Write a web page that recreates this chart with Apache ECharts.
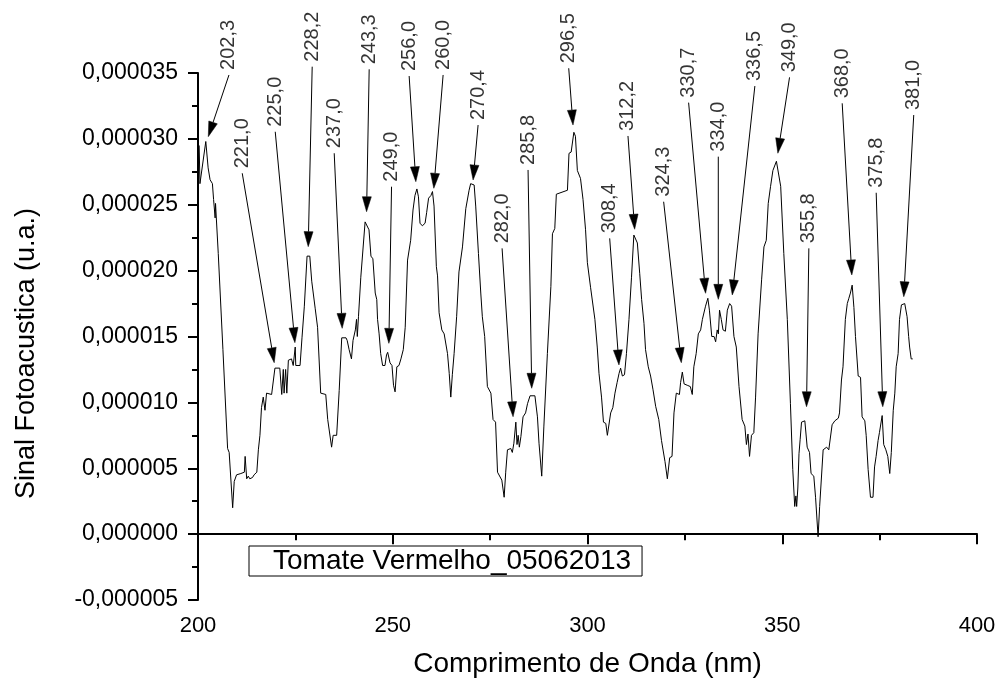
<!DOCTYPE html>
<html>
<head>
<meta charset="utf-8">
<script src="https://cdn.jsdelivr.net/npm/echarts@6/dist/echarts.min.js"></script>
<style>html,body{margin:0;padding:0;background:#fff;}#c{width:999px;height:684px;}</style>
</head>
<body>
<div id="c"></div>
<script>
// Wavelength (nm)
var wavelength = [200.3,200.5,201.0,202.0,202.6,203.1,203.7,204.0,204.3,204.4,204.5,205.2,206.4,207.6,208.0,208.9,209.3,209.9,211.0,211.9,212.1,212.5,212.9,213.3,213.6,214.0,214.4,215.1,215.5,215.9,216.3,216.75,217.2,217.6,218.9,219.3,219.75,221.0,221.5,221.9,222.1,222.5,222.8,223.2,224.0,224.45,224.96,225.1,226.2,226.7,227.3,228.0,228.7,229.2,229.5,230.1,230.7,
231.5,232.8,233.3,233.8,234.3,234.7,235.6,236.25,236.9,238.0,238.3,238.8,239.4,239.8,240.4,240.7,240.9,241.2,241.8,242.9,243.4,243.9,244.4,244.9,245.5,245.9,246.1,246.5,246.9,247.4,248.0,248.4,248.7,249.3,249.8,250.2,250.6,251.05,251.6,252.1,252.7,253.2,253.8,254.6,255.2,255.7,256.2,256.6,257.0,257.6,258.3,258.7,259.2,259.8,260.2,260.6,261.2,
261.5,261.9,262.6,263.2,264.06,264.5,264.9,265.3,265.75,266.4,267.0,267.9,268.75,269.6,270.0,270.9,271.3,272.0,272.6,273.0,273.6,274.3,275.2,275.75,276.4,276.9,277.4,278.0,278.6,279.0,279.45,280.3,280.7,281.1,281.6,281.9,282.2,282.5,282.9,283.45,284.1,284.6,285.25,286.5,287.15,287.55,288.25,288.8,289.7,290.6,291.0,291.6,292.0,
294.85,295.25,295.8,296.5,296.9,297.4,298.2,298.85,299.5,299.97,300.8,301.1,301.9,302.5,302.95,303.6,304.1,304.7,305.1,305.5,305.95,306.5,307.05,307.6,308.1,308.5,308.95,309.5,310.0,310.65,311.3,311.9,312.3,312.8,313.4,313.9,314.5,314.9,315.6,316.2,316.8,317.5,318.3,319.0,319.9,320.5,321.1,321.7,322.2,322.8,
323.6,323.9,324.35,324.8,325.6,326.4,326.9,327.3,327.9,328.45,329.05,329.5,329.9,330.3,330.9,331.3,331.9,332.5,332.9,333.3,333.6,333.9,334.35,334.8,335.4,335.9,336.5,337.0,337.6,338.2,338.9,339.7,340.4,340.8,341.2,341.6,342.1,342.7,343.15,343.8,344.7,345.3,345.9,346.4,347.0,347.6,348.1,348.5,349.0,349.6,350.4,351.3,352.1,352.7,353.2,353.5,353.7,
354.0,354.3,354.6,354.95,355.8,356.4,357.0,357.4,358.1,358.55,359.2,359.6,360.1,360.5,361.4,361.95,362.4,362.8,363.5,364.4,364.7,365.2,365.6,366.2,366.7,367.1,367.5,367.95,368.4,368.8,369.5,370.1,370.5,371.2,371.55,372.05,372.65,373.3,373.7,374.1,374.6,374.95,375.3,375.65,376.05,376.6,377.1,377.6,378.0,378.5,378.9,379.25,379.75,380.1,380.6,381.45,382.05,382.45,382.7,383.1,383.5];

// Photoacoustic signal, in units of 1e-6 (u.a.)
var signal = [29.5,26.6,26.6,29.8,27.8,26.9,26.6,25.4,25.3,24.0,25.1,21.3,14.0,6.5,6.2,2.0,4.0,4.5,4.6,4.7,5.9,4.2,4.4,4.2,4.1,4.3,4.5,4.7,6.4,7.5,9.6,10.4,9.4,10.7,10.6,10.5,12.6,12.6,10.6,12.5,10.7,12.5,10.7,13.2,13.3,12.8,14.2,12.8,12.8,14.9,17.3,21.1,21.1,19.2,19.1,17.1,15.7,
10.7,10.6,8.7,8.6,6.6,7.5,7.5,10.9,14.9,14.9,14.7,14.0,13.3,14.7,15.5,16.3,15.0,16.5,19.5,23.7,23.6,23.1,21.1,20.9,18.3,17.8,16.3,15.2,13.7,12.8,12.8,13.6,13.8,13.0,12.8,11.3,10.8,12.7,12.8,13.3,14.0,15.7,20.8,22.3,24.6,25.7,26.2,25.6,23.6,23.4,23.6,24.4,25.5,25.7,26.0,24.9,20.3,
19.6,16.8,15.5,15.2,13.7,12.2,10.4,12.1,13.7,16.5,19.9,21.8,24.7,26.1,26.6,26.5,24.9,21.3,18.3,16.5,15.0,11.2,10.7,8.7,8.5,4.7,4.6,4.1,2.8,4.7,6.4,6.5,6.2,6.9,8.5,6.8,7.5,6.6,7.4,8.9,9.2,9.9,10.5,10.5,8.9,6.9,4.4,8.2,13.7,18.8,22.8,23.2,25.8,
26.1,28.9,29.0,30.5,30.2,27.6,27.0,25.4,23.1,20.6,18.7,18.6,16.3,14.2,12.2,10.4,8.5,8.4,7.5,7.6,9.2,9.6,10.7,11.5,12.2,12.6,12.0,12.1,13.7,16.3,19.5,22.7,22.7,22.1,19.8,17.8,16.0,14.0,12.7,12.0,11.0,9.7,8.7,7.1,5.5,4.2,5.8,5.9,9.2,10.7,
10.6,11.5,12.3,11.4,11.3,11.2,10.6,12.7,13.7,15.2,15.5,16.3,16.4,17.3,17.9,17.0,15.0,15.0,14.6,15.5,15.2,17.0,16.3,15.5,15.4,17.0,17.5,17.3,15.0,14.2,11.2,8.7,8.2,6.8,7.6,5.9,7.5,7.7,10.4,15.2,19.3,21.8,22.3,25.1,26.4,27.6,27.7,28.3,28.4,26.4,21.3,16.3,9.9,4.9,2.1,2.9,2.1,
3.5,6.1,7.2,8.5,8.6,6.6,6.2,4.6,4.4,2.8,-0.2,2.1,2.1,6.4,6.6,6.4,6.3,8.3,8.6,8.8,9.2,11.7,12.7,16.3,17.5,17.9,18.3,18.9,17.2,15.0,12.0,11.9,8.9,8.6,7.5,4.9,2.8,2.8,5.1,5.9,7.1,7.7,7.6,9.0,6.8,6.4,5.9,4.6,6.2,9.4,10.7,12.7,13.7,16.3,17.4,17.5,16.5,15.0,14.2,13.3,13.3];

// Peak annotations: label text, label anchor (nm, signal), arrow tip (nm, signal)
var peakLabels = ['202,3','221,0','225,0','228,2','237,0','243,3','249,0','256,0','260,0','270,4','282,0','285,8','296,5','308,4','312,2','324,3','330,7','334,0','336,5','349,0','355,8','368,0','375,8','381,0'];
var labelX = [207.95,211.36,219.83,229.32,234.97,243.95,249.69,254.21,262.93,271.91,278.07,284.74,295.18,305.70,310.39,319.55,325.96,333.58,342.97,351.87,356.83,365.39,374.12,383.76];
var labelY = [34.85,27.39,30.54,35.48,28.91,35.28,26.37,34.77,34.85,31.05,21.69,27.64,35.36,22.45,30.22,25.23,32.75,28.65,34.01,34.67,21.69,32.70,25.91,31.81];
var tipX = [202.64,219.57,224.88,228.30,237.02,243.28,249.00,255.93,260.54,270.63,280.89,285.68,296.28,308.08,312.11,324.09,330.32,333.58,337.17,348.87,356.23,367.86,375.81,381.20];
var tipY = [30.17,13.01,14.53,21.82,15.62,24.47,14.48,26.75,26.25,26.88,8.91,11.07,31.05,12.84,23.14,13.01,18.28,17.82,18.15,28.91,9.67,19.67,9.67,18.02];

var seriesName = 'Tomate Vermelho_05062013';
var xTitle = 'Comprimento de Onda (nm)';
var yTitle = 'Sinal Fotoacustica (u.a.)';

var lineData = wavelength.map(function (w, i) { return [w, signal[i]]; });
var arrowData = peakLabels.map(function (t, i) { return [labelX[i], labelY[i], tipX[i], tipY[i]]; });
var labelData = peakLabels.map(function (t, i) { return [labelX[i], labelY[i], t]; });

function renderArrow(params, api) {
  var p0 = api.coord([api.value(0), api.value(1)]);
  var p1 = api.coord([api.value(2), api.value(3)]);
  var dx = p1[0] - p0[0], dy = p1[1] - p0[1];
  var len = Math.sqrt(dx * dx + dy * dy) || 1;
  var ux = dx / len, uy = dy / len;
  var headL = 15, headW = 4.5;
  var bx = p1[0] - ux * headL, by = p1[1] - uy * headL;
  var nx = -uy, ny = ux;
  return {
    type: 'group',
    children: [
      { type: 'line', shape: { x1: p0[0], y1: p0[1], x2: bx, y2: by },
        style: { stroke: '#000', lineWidth: 1 } },
      { type: 'polygon', shape: { points: [[p1[0], p1[1]], [bx + nx * headW, by + ny * headW], [bx - nx * headW, by - ny * headW]] },
        style: { fill: '#000', stroke: '#000', lineWidth: 0.5 } }
    ]
  };
}

var FONT = 'Liberation Sans, Arial, sans-serif';
var chart = echarts.init(document.getElementById('c'), null, { renderer: 'canvas' });
chart.setOption({
  animation: false,
  backgroundColor: '#fff',
  textStyle: { fontFamily: FONT, color: '#000' },
  grid: { left: 198, right: 22, top: 73, bottom: 84, containLabel: false },
  legend: {
    data: [seriesName],
    left: 249, top: 546,
    selectedMode: false,
    borderColor: '#000', borderWidth: 1, borderRadius: 0,
    padding: [1, 11, 1, 5],
    icon: 'rect', itemWidth: 14, itemHeight: 14,
    itemStyle: { color: 'rgba(0,0,0,0)', borderWidth: 0 },
    lineStyle: { opacity: 0 },
    textStyle: { fontSize: 28, color: '#000', fontFamily: FONT }
  },
  xAxis: {
    type: 'value', min: 200, max: 400, interval: 50,
    name: xTitle, nameLocation: 'middle', nameGap: 50,
    nameTextStyle: { fontSize: 28, color: '#000', fontFamily: FONT },
    axisLine: { show: true, lineStyle: { color: '#000', width: 2 } },
    axisTick: { show: true, length: 10, lineStyle: { color: '#000', width: 2 } },
    minorTick: { show: true, splitNumber: 2, length: 6, lineStyle: { color: '#000', width: 2 } },
    axisLabel: { fontSize: 22, color: '#000', margin: 15, fontFamily: FONT },
    splitLine: { show: false }, minorSplitLine: { show: false }
  },
  yAxis: {
    type: 'value', min: -5, max: 35, interval: 5,
    name: yTitle, nameLocation: 'middle', nameGap: 158,
    nameTextStyle: { fontSize: 27, color: '#000', fontFamily: FONT, padding: [0, 34, 0, 0] },
    axisLine: { show: true, lineStyle: { color: '#000', width: 2 } },
    axisTick: { show: true, length: 10, lineStyle: { color: '#000', width: 2 } },
    minorTick: { show: true, splitNumber: 2, length: 6, lineStyle: { color: '#000', width: 2 } },
    axisLabel: {
      fontSize: 23, color: '#000', margin: 20, fontFamily: FONT,
      formatter: function (v) { return (v * 1e-6).toFixed(6).replace('.', ','); }
    },
    splitLine: { show: false }, minorSplitLine: { show: false }
  },
  series: [
    {
      name: seriesName, type: 'line', data: lineData,
      showSymbol: false, symbol: 'none', clip: false,
      lineStyle: { color: '#000', width: 1 },
      itemStyle: { color: '#000' },
      emphasis: { disabled: true }
    },
    {
      name: 'arrows', type: 'custom', data: arrowData, clip: false, silent: true,
      encode: { x: [0, 2], y: [1, 3] },
      renderItem: renderArrow
    },
    {
      name: 'labels', type: 'scatter', data: labelData,
      symbolSize: 0, clip: false, silent: true,
      label: {
        show: true, position: 'top', distance: 5, rotate: 90,
        align: 'left', verticalAlign: 'middle',
        fontSize: 20, color: '#000', fontFamily: FONT,
        formatter: function (p) { return p.value[2]; }
      },
      emphasis: { disabled: true }
    }
  ]
});
</script>
</body>
</html>
